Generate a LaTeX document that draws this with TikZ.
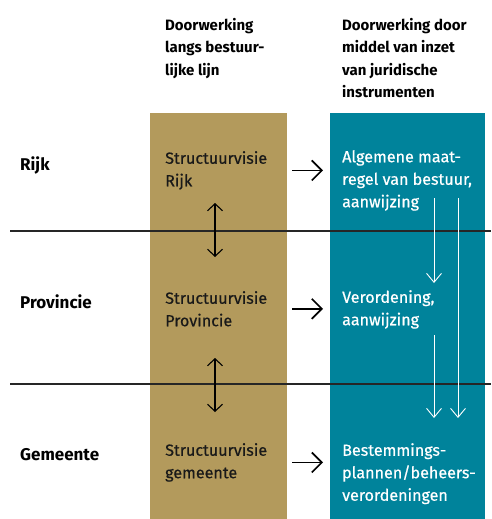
\documentclass[tikz,border=0pt]{standalone}
\usepackage{fontspec}
\setmainfont{Fira Sans}
\newfontfamily\middel{Fira Sans}[FakeBold=0.5]
\usepackage{xcolor}
\usepackage{tikz}
\usetikzlibrary{arrows.meta}

\definecolor{goud}{RGB}{179,154,92}
\definecolor{petrol}{RGB}{0,131,155}

\tikzset{
  tekst/.style={anchor=north west, inner sep=0pt, align=left, font=\middel\fontsize{16.1}{22.5}\selectfont},
  kop/.style={anchor=north west, inner sep=0pt, align=left, font=\fontsize{15}{22.5}\selectfont\bfseries},
  niveau/.style={anchor=base west, inner sep=0pt, font=\fontsize{17}{18}\selectfont\bfseries},
  goudtekst/.style={tekst, text=black!90},
  petroltekst/.style={tekst, text=white},
  kolom/.style={anchor=north west, inner sep=0pt, minimum height=406pt},
  pijl/.style={-{Straight Barb[length=10pt,width=20pt]}, line width=1.7pt},
  dubbelpijl/.style={{Straight Barb[length=7pt,width=15pt]}-{Straight Barb[length=7pt,width=15pt]}, line width=1.1pt},
  wpijl/.style={-{Straight Barb[length=9pt,width=15pt]}, white, line width=0.9pt},
  scheiding/.style={black!85, line width=1.1pt}
}

\begin{document}
\begin{tikzpicture}[x=1pt,y=-1pt]
\useasboundingbox (0,0) rectangle (491,519);
 \node[kolom, fill=goud, minimum width=137pt] (goudkolom) at (150,113) {};
 \node[kolom, fill=petrol, minimum width=155pt] (petrolkolom) at (330,113) {};
 \draw[scheiding] (10,231) -- (491,231)
		(10,384) -- (491,384);
 %Koppen
 \node[kop] (kopbestuur) at (165,18) {Doorwerking\\langs bestuur-\\lijke lijn};
 \node[kop] (kopjuridisch) at (342,18) {Doorwerking door\\middel van inzet\\van juridische\\instrumenten};
 %Rijk
 \node[niveau] (rijk) at (20,170) {Rijk};
 \node[goudtekst] (rijkgoud) at (165,151) {Structuurvisie\\Rijk};
 \node[petroltekst] (rijkpetrol) at (342,150) {Algemene maat-\\regel van bestuur,\\aanwijzing};
 \draw[pijl, shorten <=5pt, shorten >=7pt] (goudkolom.east |- rijkgoud) -- (petrolkolom.west |- rijkgoud);
 %Provincie
 \node[niveau] (provincie) at (20,308) {Provincie};
 \node[goudtekst] (provgoud) at (165,291) {Structuurvisie\\Provincie};
 \node[petroltekst] (provpetrol) at (342,290) {Verordening,\\aanwijzing};
 \draw[pijl, shorten <=5pt, shorten >=7pt] (goudkolom.east |- provgoud) -- (petrolkolom.west |- provgoud);
 %Gemeente
 \node[niveau] (gemeente) at (20,460) {Gemeente};
 \node[goudtekst] (gemgoud) at (165,443) {Structuurvisie\\gemeente};
 \node[petroltekst] (gempetrol) at (342,443) {Bestemmings-\\plannen/beheers-\\verordeningen};
 \draw[pijl, shorten <=5pt, shorten >=7pt] (goudkolom.east |- gemgoud) -- (petrolkolom.west |- gemgoud);
 %Pijlen tussen de niveaus
 \coordinate (rijkonder) at (215,203);
 \coordinate (provboven) at (215,257);
 \coordinate (provonder) at (215,358);
 \coordinate (gemboven) at (215,412);
 \draw[dubbelpijl] (rijkonder) -- (provboven);
 \draw[dubbelpijl] (provonder) -- (gemboven);
 \coordinate (wit1start) at (434,198);
 \coordinate (wit1eind) at (434,283);
 \coordinate (wit2start) at (458,198);
 \coordinate (wit2eind) at (458,418);
 \coordinate (wit3start) at (434,335);
 \coordinate (wit3eind) at (434,418);
 \draw[wpijl] (wit1start) -- (wit1eind);
 \draw[wpijl] (wit2start) -- (wit2eind);
 \draw[wpijl] (wit3start) -- (wit3eind);
\end{tikzpicture}
\end{document}
